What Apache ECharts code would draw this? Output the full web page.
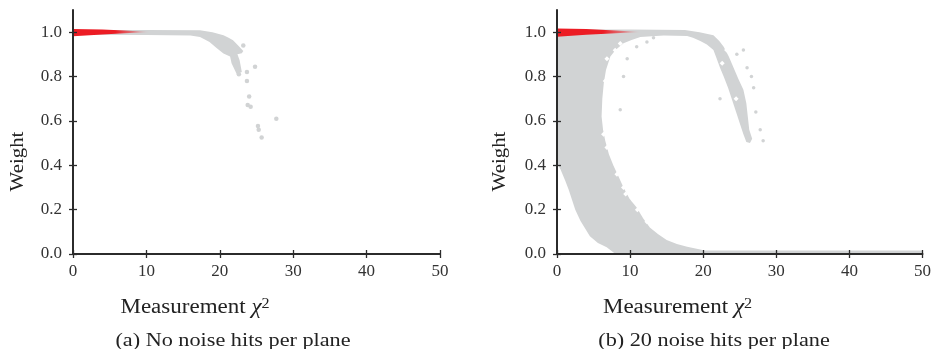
<!DOCTYPE html>
<html><head><meta charset="utf-8">
<script src="https://cdn.jsdelivr.net/npm/echarts@6/dist/echarts.min.js"></script>
<style>html,body{margin:0;padding:0;background:#fff}#c{width:934px;height:349px}</style>
</head><body><div id="c"></div>
<script>
// ---- tick values / labels ----
const xTicks = [0, 10, 20, 30, 40, 50];
const yTicks = [0, 0.2, 0.4, 0.6, 0.8, 1.0];
const captions = ['(a) No noise hits per plane', '(b) 20 noise hits per plane'];
const xTitle = 'Measurement ';
const xTitleSym = 'χ';
const xTitleSup = '2';
const yTitle = 'Weight';

// ---- panel (a): outline of the grey point cloud (chi2, weight) ----
const aCloudX = [0, 10, 17.3, 19.0, 20.5, 21.2, 21.8, 22.5, 23.2, 23.0, 22.4, 22.7, 23.0, 22.3, 21.6, 21.4, 20.5, 19.6, 18.6, 17.7, 17.3, 16.0, 10, 0];
const aCloudY = [1.010, 1.010, 1.009, 1.000, 0.986, 0.975, 0.964, 0.940, 0.915, 0.905, 0.900, 0.874, 0.820, 0.812, 0.860, 0.890, 0.904, 0.927, 0.956, 0.971, 0.978, 0.985, 0.987, 0.988];
// red (low chi2) part of panel (a)
const aRedX = [0, 4, 7, 10.5, 7, 4, 0];
const aRedY = [1.014, 1.012, 1.008, 1.001, 0.995, 0.990, 0.982];
// isolated grey points of panel (a)
const aDotsX = [23.2, 24.8, 23.7, 22.6, 23.7, 24.0, 23.8, 24.2, 27.7, 25.3, 25.7, 25.2];
const aDotsY = [0.940, 0.844, 0.820, 0.810, 0.780, 0.710, 0.672, 0.664, 0.610, 0.560, 0.525, 0.577];

// ---- panel (b): outline of the grey point cloud ----
const bCloudX = [0, 10, 17.5, 19.5, 21.4, 22.2, 22.8, 23.5, 24.1, 24.8, 25.5, 25.9, 26.1, 26.3, 26.7, 26.4, 25.9, 25.5, 25.0, 24.6, 24.0, 23.4, 22.8, 22.3, 21.8, 21.4, 20.5, 19.6, 18.6, 17.8, 14.6, 11.4, 10.2, 9.1, 8.0, 7.3, 6.7, 6.4, 6.2, 6.1, 6.3, 6.6, 7.1, 7.7, 8.4, 9.1, 9.9, 10.9, 11.8, 12.7, 13.8, 15.0, 16.4, 17.8, 19.6, 20.2, 50, 50, 8.0, 6.8, 5.6, 4.5, 3.2, 2.5, 1.6, 1.13, 0.5, 0];
const bCloudY = [1.012, 1.012, 1.010, 1.000, 0.986, 0.960, 0.934, 0.890, 0.844, 0.790, 0.740, 0.680, 0.620, 0.560, 0.520, 0.500, 0.505, 0.540, 0.590, 0.630, 0.690, 0.750, 0.800, 0.840, 0.885, 0.920, 0.945, 0.960, 0.975, 0.983, 0.985, 0.978, 0.965, 0.950, 0.920, 0.890, 0.830, 0.770, 0.700, 0.620, 0.560, 0.510, 0.450, 0.400, 0.350, 0.300, 0.250, 0.210, 0.160, 0.120, 0.090, 0.063, 0.045, 0.033, 0.020, 0.016, 0.016, 0, 0, 0.030, 0.050, 0.080, 0.150, 0.200, 0.290, 0.330, 0.380, 0.410];
const bRedX = [0, 4, 8, 11.5, 8, 4, 0];
const bRedY = [1.017, 1.014, 1.008, 1.001, 0.995, 0.988, 0.979];
// gaps (empty spots) inside the grey cloud of panel (b)
const bGapX = [8.65, 7.96, 6.83, 7.28, 6.6, 7.5, 6.83, 6.37, 6.83, 7.73, 8.2, 9.1, 10.5, 11.8, 13.2, 12.3, 23.2, 22.6, 24.5, 11.0, 9.4];
const bGapY = [0.949, 0.919, 0.880, 0.830, 0.780, 0.710, 0.650, 0.540, 0.480, 0.440, 0.360, 0.300, 0.240, 0.180, 0.120, 0.145, 0.920, 0.860, 0.700, 0.200, 0.270];
// isolated grey points of panel (b)
const bDotsX = [9.6, 10.9, 9.1, 8.65, 22.3, 26.0, 25.5, 24.6, 26.9, 27.8, 28.2, 12.3, 13.2, 27.2, 26.6];
const bDotsY = [0.880, 0.934, 0.800, 0.650, 0.700, 0.840, 0.920, 0.900, 0.750, 0.560, 0.510, 0.956, 0.975, 0.640, 0.800];

const GREY = '#d1d3d4';
const RED = '#ec1c24';
const INK = '#2b2b2b';

function polySeries(xs, ys, axis, fill, z) {
  return {
    type: 'custom', coordinateSystem: 'cartesian2d', xAxisIndex: axis, yAxisIndex: axis,
    silent: true, z: z, animation: false,
    data: [[xs[0], ys[0]]],
    renderItem: function (params, api) {
      return { type: 'polygon', shape: { points: xs.map(function (x, i) { return api.coord([x, ys[i]]); }) }, style: { fill: fill } };
    }
  };
}
function dotSeries(xs, ys, axis, color, size, symbol, z) {
  return { type: 'scatter', xAxisIndex: axis, yAxisIndex: axis, silent: true, z: z, symbol: symbol, symbolSize: size,
    itemStyle: { color: color, opacity: 1 }, data: xs.map(function (x, i) { return [x, ys[i]]; }) };
}
function redFill() {
  return new echarts.graphic.LinearGradient(0, 0, 1, 0, [
    { offset: 0, color: RED }, { offset: 0.55, color: RED }, { offset: 1, color: GREY }
  ]);
}
function xAxes(grid) {
  const common = { gridIndex: grid, type: 'value', min: 0, max: 50, interval: 10, position: 'bottom', splitLine: { show: false }, z: 5 };
  return [
    Object.assign({}, common, {
      axisLine: { show: true, onZero: false, lineStyle: { color: INK, width: 2 } },
      axisTick: { show: true, inside: false, length: 4, lineStyle: { color: INK, width: 1.3 } },
      axisLabel: { show: true, margin: 9, fontFamily: 'Liberation Serif', fontSize: 17, color: '#333' }
    }),
    Object.assign({}, common, {
      axisLine: { show: false, onZero: false },
      axisTick: { show: true, inside: true, length: 4, lineStyle: { color: INK, width: 1.3 } },
      axisLabel: { show: false }
    })
  ];
}
function yAxes(grid) {
  const common = { gridIndex: grid, type: 'value', min: 0, max: 1.1, position: 'left', splitLine: { show: false }, z: 5 };
  return [
    Object.assign({}, common, {
      axisLine: { show: true, onZero: false, lineStyle: { color: INK, width: 2 } },
      axisTick: { show: true, inside: false, length: 4, customValues: yTicks, lineStyle: { color: INK, width: 1.3 } },
      axisLabel: { show: true, margin: 11, customValues: yTicks, formatter: function (v) { return v.toFixed(1); }, fontFamily: 'Liberation Serif', fontSize: 17, color: '#333' }
    }),
    Object.assign({}, common, {
      axisLine: { show: false, onZero: false },
      axisTick: { show: true, inside: true, length: 4, customValues: yTicks, lineStyle: { color: INK, width: 1.3 } },
      axisLabel: { show: false }
    })
  ];
}
function titleX(cx) {
  return { type: 'text', x: cx, y: 307.5, scaleX: 1.15, z: 10,
    style: { text: '{n|' + xTitle + '}{c|' + xTitleSym + '}{s|' + xTitleSup + '}', align: 'center', verticalAlign: 'middle', fill: '#222',
      rich: { n: { fontFamily: 'Liberation Serif', fontSize: 20, verticalAlign: 'bottom', fill: '#222' },
              c: { fontFamily: 'Liberation Serif', fontStyle: 'italic', fontSize: 20, verticalAlign: 'bottom', fill: '#222' },
              s: { fontFamily: 'Liberation Serif', fontSize: 14, verticalAlign: 'top', fill: '#222' } } } };
}
function titleY(cx) {
  return { type: 'text', x: cx, y: 161.5, rotation: Math.PI / 2, scaleX: 1.1, z: 10,
    style: { text: yTitle, fontFamily: 'Liberation Serif', fontSize: 19, align: 'center', verticalAlign: 'middle', fill: '#222' } };
}
function caption(cx, t) {
  return { type: 'text', x: cx, y: 341, scaleX: 1.17, z: 10,
    style: { text: t, fontFamily: 'Liberation Serif', fontSize: 19, align: 'center', verticalAlign: 'middle', fill: '#222' } };
}

const chart = echarts.init(document.getElementById('c'), null, { renderer: 'canvas' });
chart.setOption({
  animation: false,
  backgroundColor: '#fff',
  grid: [
    { left: 73, top: 10, width: 367, height: 244 },
    { left: 557, top: 10, width: 366, height: 244 }
  ],
  xAxis: xAxes(0).concat(xAxes(1)),
  yAxis: yAxes(0).concat(yAxes(1)),
  series: [
    polySeries(aCloudX, aCloudY, 0, GREY, 2),
    polySeries(aRedX, aRedY, 0, redFill(), 3),
    dotSeries(aDotsX, aDotsY, 0, GREY, 4.5, 'circle', 2),
    polySeries(bCloudX, bCloudY, 2, GREY, 2),
    dotSeries(bGapX, bGapY, 2, '#ffffff', 5, 'diamond', 3),
    dotSeries(bDotsX, bDotsY, 2, GREY, 3.5, 'circle', 2),
    polySeries(bRedX, bRedY, 2, redFill(), 4)
  ],
  graphic: [
    titleY(18.5), titleY(500.5),
    titleX(195), titleX(677.5),
    caption(233, captions[0]), caption(714, captions[1])
  ]
});
</script></body></html>
